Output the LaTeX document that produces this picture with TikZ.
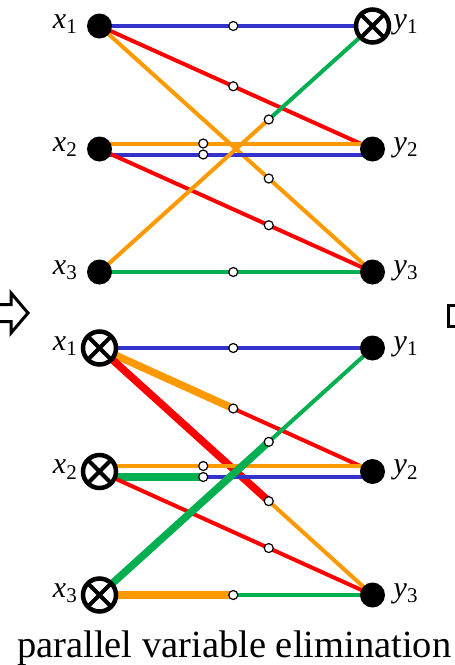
\documentclass[tikz,border=0pt]{standalone}
\usepackage{fontspec}
\setmainfont{Liberation Serif}
\usetikzlibrary{calc,backgrounds}

\definecolor{eblue}{RGB}{51,51,204}
\definecolor{ered}{RGB}{255,0,0}
\definecolor{eorange}{RGB}{255,153,0}
\definecolor{egreen}{RGB}{0,176,80}

\tikzset{
  var/.style={circle, fill=black, inner sep=0pt, minimum size=25pt},
  elim/.style={circle, draw=black, line width=4.5pt, fill=white, inner sep=0pt,
               minimum size=33pt,
               path picture={\draw[line width=4pt]
                 (path picture bounding box.center) +(-15pt,-15pt) -- +(15pt,15pt)
                 (path picture bounding box.center) +(-15pt,15pt) -- +(15pt,-15pt);}},
  msg/.style={circle, draw=black, line width=1.2pt, fill=white, inner sep=0pt,
              minimum size=9pt},
  lbl/.style={inner sep=0pt, font=\fontsize{30}{36}\selectfont},
  wire/.style={line width=4pt},
  fat/.style={line width=7.5pt},
  hollow/.style={draw=black, line width=3pt, fill=white, line join=miter}
}

\begin{document}
\begin{tikzpicture}[x=1pt, y=-1pt]
    \useasboundingbox (0,0) rectangle (455,665);

    % Top graph
    \node[var]  (x1) at (99.5,26) {};
    \node[var]  (x2) at (99.5,149) {};
    \node[var]  (x3) at (99.5,272) {};
    \node[elim] (y1) at (372.5,26) {};
    \node[var]  (y2) at (372.5,149) {};
    \node[var]  (y3) at (372.5,272) {};

    % Bottom graph
    \node[elim] (bx1) at (99.5,348) {};
    \node[elim] (bx2) at (99.5,471.5) {};
    \node[elim] (bx3) at (99.5,595) {};
    \node[var]  (by1) at (372.5,348) {};
    \node[var]  (by2) at (372.5,471.5) {};
    \node[var]  (by3) at (372.5,595) {};

    % Labels
    \node[lbl, anchor=mid east] (lx1) at ([xshift=-22pt]x1.center) {\textit{x}\textsubscript{1}};
    \node[lbl, anchor=mid east] (lx2) at ([xshift=-22pt]x2.center) {\textit{x}\textsubscript{2}};
    \node[lbl, anchor=mid east] (lx3) at ([xshift=-22pt]x3.center) {\textit{x}\textsubscript{3}};
    \node[lbl, anchor=mid west] (ly1) at ([xshift=21pt]y1.center) {\textit{y}\textsubscript{1}};
    \node[lbl, anchor=mid west] (ly2) at ([xshift=21pt]y2.center) {\textit{y}\textsubscript{2}};
    \node[lbl, anchor=mid west] (ly3) at ([xshift=21pt]y3.center) {\textit{y}\textsubscript{3}};
    \node[lbl, anchor=mid east] (lbx1) at ([xshift=-22pt]bx1.center) {\textit{x}\textsubscript{1}};
    \node[lbl, anchor=mid east] (lbx2) at ([xshift=-22pt]bx2.center) {\textit{x}\textsubscript{2}};
    \node[lbl, anchor=mid east] (lbx3) at ([xshift=-22pt]bx3.center) {\textit{x}\textsubscript{3}};
    \node[lbl, anchor=mid west] (lby1) at ([xshift=21pt]by1.center) {\textit{y}\textsubscript{1}};
    \node[lbl, anchor=mid west] (lby2) at ([xshift=21pt]by2.center) {\textit{y}\textsubscript{2}};
    \node[lbl, anchor=mid west] (lby3) at ([xshift=21pt]by3.center) {\textit{y}\textsubscript{3}};

    % Messages, top
    \node[msg] (m11) at ($(x1)!.49!(y1)$) {};
    \node[msg] (m12) at ($(x1)!.49!(y2)$) {};
    \node[msg] (m13) at ($(x1)!.62!(y3)$) {};
    \node[msg] (m22a) at ($(x2)!.38!(y2)+(0,-5.5)$) {};
    \node[msg] (m22b) at ($(x2)!.38!(y2)+(0,5.5)$) {};
    \node[msg] (m23) at ($(x2)!.62!(y3)$) {};
    \node[msg] (m31) at ($(x3)!.62!(y1)$) {};
    \node[msg] (m33) at ($(x3)!.49!(y3)$) {};

    % Messages, bottom
    \node[msg] (n11) at ($(bx1)!.49!(by1)$) {};
    \node[msg] (n12) at ($(bx1)!.49!(by2)$) {};
    \node[msg] (n13) at ($(bx1)!.62!(by3)$) {};
    \node[msg] (n22a) at ($(bx2)!.38!(by2)+(0,-5.5)$) {};
    \node[msg] (n22b) at ($(bx2)!.38!(by2)+(0,5.5)$) {};
    \node[msg] (n23) at ($(bx2)!.62!(by3)$) {};
    \node[msg] (n31) at ($(bx3)!.62!(by1)$) {};
    \node[msg] (n33) at ($(bx3)!.49!(by3)$) {};

    \begin{scope}[on background layer]
        % Top edges
        \draw[wire, eblue] (x1.center) -- (y1.center);
        \draw[wire, ered] (x1.center) -- (y2.center);
        \draw[wire, eorange] (x1.center) -- (y3.center);
        \draw[wire, eorange] ([yshift=5.5pt]x2.center) -- ([yshift=5.5pt]y2.center);
        \draw[wire, eblue] ([yshift=-5.5pt]x2.center) -- ([yshift=-5.5pt]y2.center);
        \draw[wire, ered] (x2.center) -- (y3.center);
        \draw[wire, eorange] (x3.center) -- (m31.center);
        \draw[wire, egreen] (m31.center) -- (y1.center);
        \draw[wire, egreen] (x3.center) -- (y3.center);

        % Bottom edges
        \draw[wire, eblue] (bx1.center) -- (by1.center);
        \draw[fat, eorange] (bx1.center) -- (n12.center);
        \draw[wire, ered] (n12.center) -- (by2.center);
        \draw[fat, ered] (bx1.center) -- (n13.center);
        \draw[wire, eorange] (n13.center) -- (by3.center);
        \draw[wire, eorange] ([yshift=5.5pt]bx2.center) -- ([yshift=5.5pt]by2.center);
        \draw[fat, egreen] ([yshift=-5.5pt]bx2.center) -- (n22b.center);
        \draw[wire, eblue] (n22b.center) -- ([yshift=-5.5pt]by2.center);
        \draw[wire, ered] (bx2.center) -- (by3.center);
        \draw[fat, egreen] (bx3.center) -- (n31.center);
        \draw[wire, egreen] (n31.center) -- (by1.center);
        \draw[fat, eorange] (bx3.center) -- (n33.center);
        \draw[wire, egreen] (n33.center) -- (by3.center);
    \end{scope}

    % Side arrows (cut by the frame)
    \begin{scope}
        \clip (0,0) rectangle (455,665);
        \draw[hollow] (-10,304.5) -- (11,304.5) -- (11,293) -- (28,313)
            -- (11,333) -- (11,321.5) -- (-10,321.5) -- cycle;
        \draw[hollow] (470,305) -- (448.5,305) -- (448.5,326) -- (470,326);
    \end{scope}

    \node[anchor=base west, inner sep=0pt, font=\fontsize{38.5}{46}\selectfont]
        (cap) at (17,657) {parallel variable elimination};
\end{tikzpicture}
\end{document}
